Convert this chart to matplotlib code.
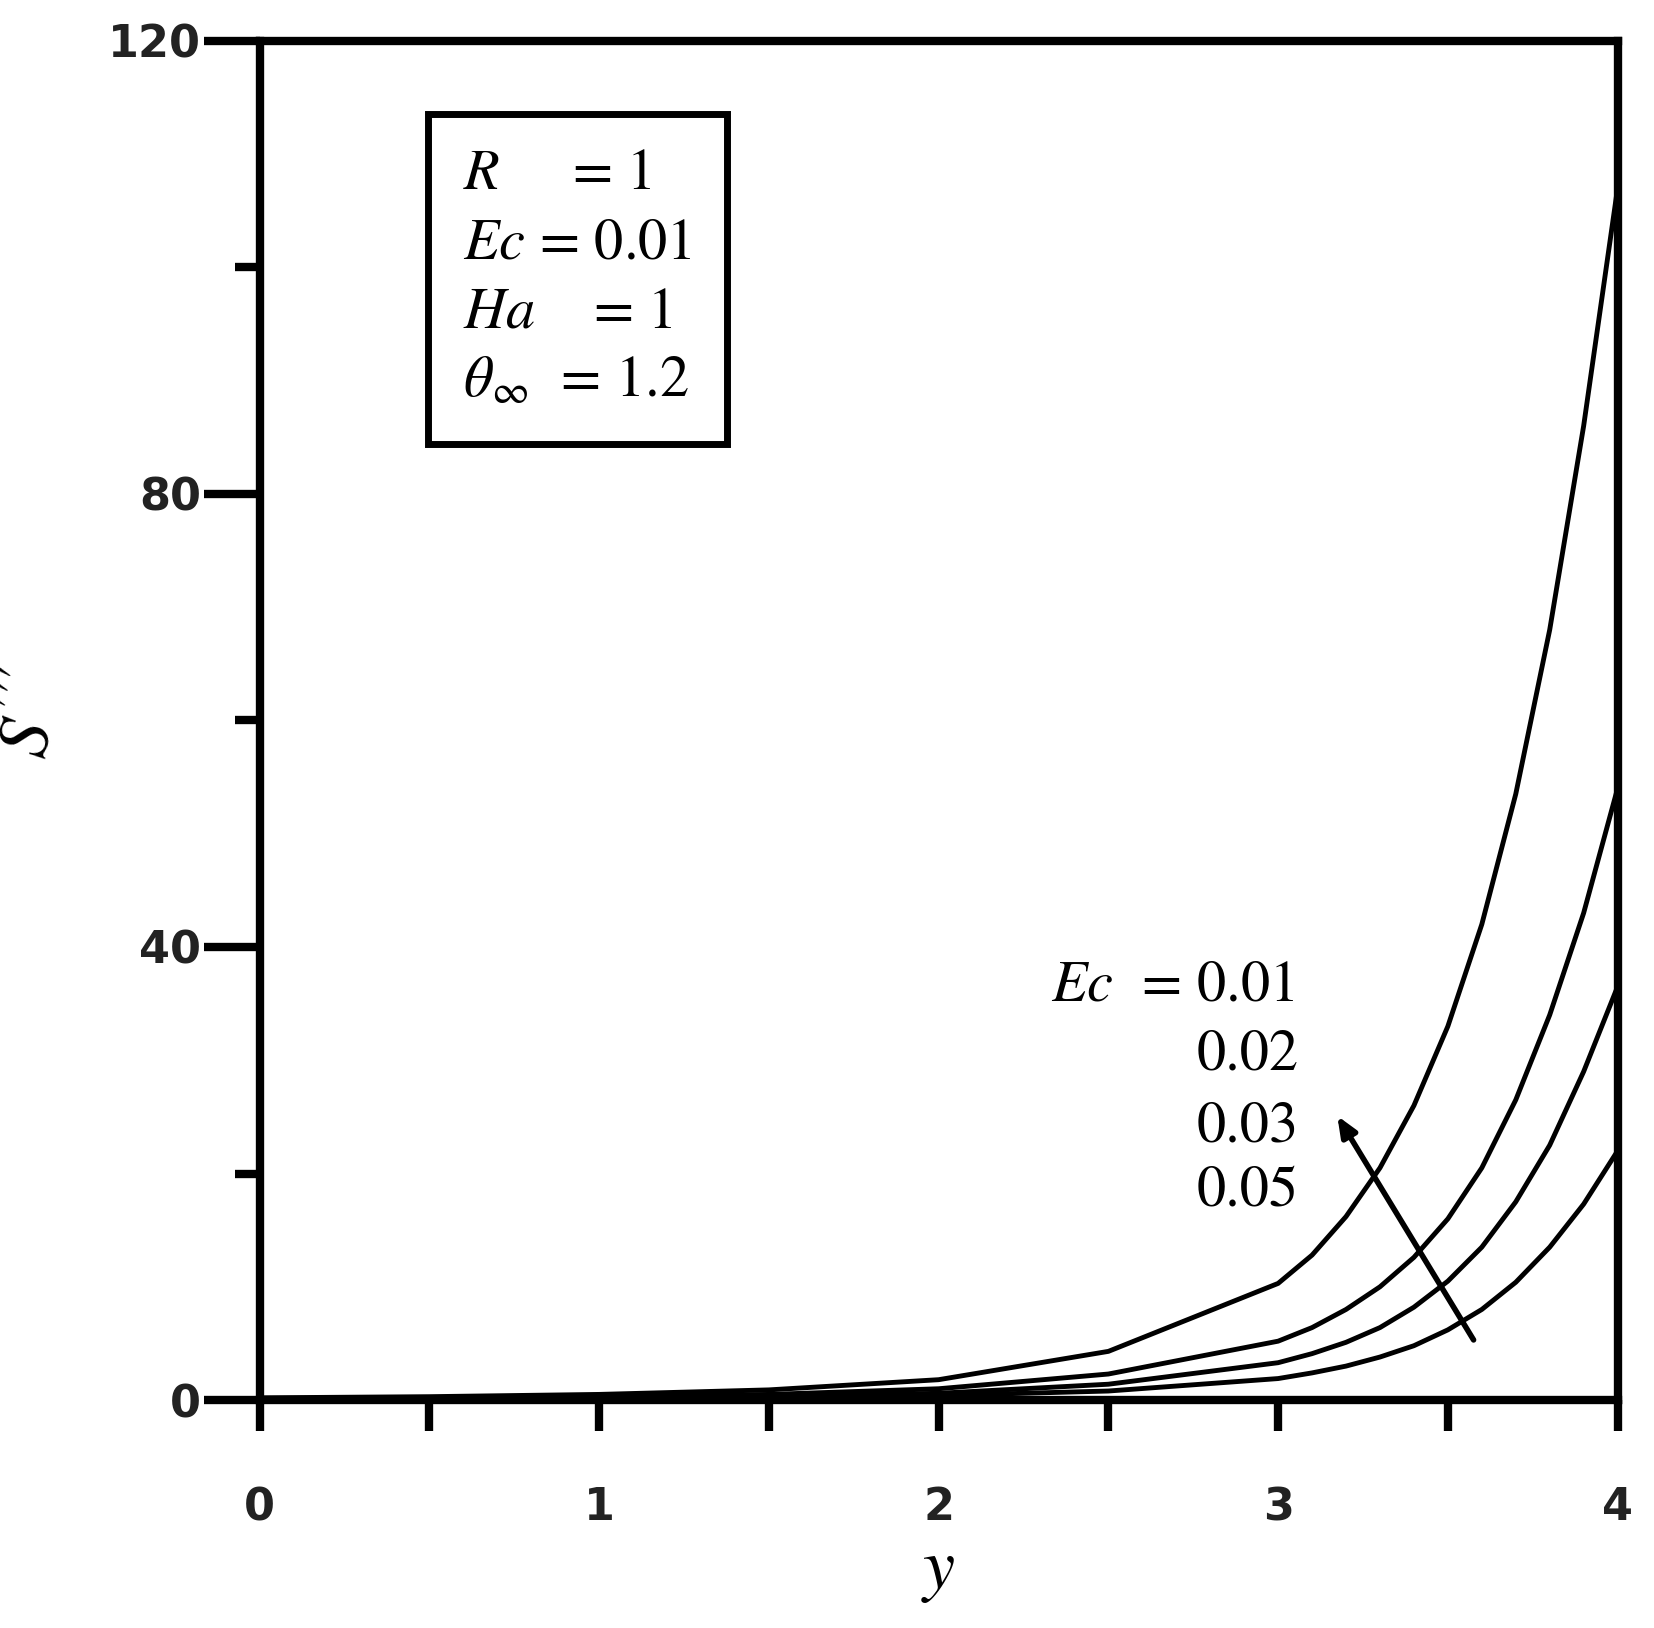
import numpy as np
import matplotlib
matplotlib.use("Agg")
import matplotlib.pyplot as plt

plt.rcParams["mathtext.fontset"] = "stix"

# values
y_vals = [0.0, 0.5, 1.0, 1.5, 2.0, 2.5, 3.0, 3.1, 3.2, 3.3, 3.4, 3.5, 3.6, 3.7, 3.8, 3.9, 4.0]
s_ec005 = [0.2, 0.3, 0.5, 0.9, 1.8, 4.3, 10.3, 12.8, 16.2, 20.5, 26.0, 33.0, 42.0, 53.5, 68.0, 86.0, 107.0]
s_ec003 = [0.1, 0.2, 0.3, 0.5, 1.0, 2.3, 5.2, 6.4, 8.0, 10.0, 12.6, 16.0, 20.5, 26.5, 34.0, 43.0, 54.0]
s_ec002 = [0.1, 0.1, 0.2, 0.3, 0.6, 1.4, 3.3, 4.1, 5.1, 6.4, 8.2, 10.5, 13.5, 17.5, 22.5, 29.0, 36.5]
s_ec001 = [0.0, 0.1, 0.1, 0.2, 0.4, 0.8, 1.9, 2.4, 3.0, 3.8, 4.8, 6.2, 8.0, 10.4, 13.5, 17.3, 22.0]
series = [s_ec005, s_ec003, s_ec002, s_ec001]

fig = plt.figure(figsize=(16.54, 16.28), dpi=100)
ax = fig.add_axes([0.157, 0.14, 0.821, 0.835])

for s in series:
    ax.plot(y_vals, s, color="black", lw=3.5)

ax.set_xlim(0, 4)
ax.set_ylim(0, 120)
for sp in ax.spines.values():
    sp.set_linewidth(6)

ax.set_xticks([0, 1, 2, 3, 4])
ax.set_xticks([0.5, 1.5, 2.5, 3.5], minor=True)
ax.set_yticks([0, 40, 80, 120])
ax.set_yticks([20, 60, 100], minor=True)
ax.tick_params(axis="both", which="both", direction="out", width=6, length=22)
ax.tick_params(axis="x", which="major", pad=40)
ax.tick_params(axis="y", which="both", length=40, pad=2)
ax.tick_params(axis="y", which="minor", length=18)
for lab in ax.get_xticklabels() + ax.get_yticklabels():
    lab.set_fontsize(32)
    lab.set_fontweight("bold")
    lab.set_color("#222222")

ax.set_xlabel("$y$", fontsize=52, labelpad=5)
ax.set_ylabel("$S'''$", fontsize=52, rotation=80, labelpad=30)

# parameter box
box_txt = "$R$     = 1\n$Ec$ = 0.01\n$Ha$    = 1\n$\\theta_{\\infty}$  = 1.2"
ax.text(0.15, 0.92, box_txt, transform=ax.transAxes, fontsize=42, family="STIXGeneral",
        va="top", ha="left", linespacing=1.4,
        bbox=dict(boxstyle="square,pad=0.6", fc="white", ec="black", lw=5))

# curve labels
ax.text(2.33, 36.5, "$Ec$  = 0.01", fontsize=42, family="STIXGeneral", va="center")
for yy, t in zip([30.4, 24.0, 18.3], ["0.02", "0.03", "0.05"]):
    ax.text(2.76, yy, t, fontsize=42, family="STIXGeneral", va="center")

ax.annotate("", xy=(3.17, 25.3), xytext=(3.58, 5.1),
            arrowprops=dict(arrowstyle="-|>,head_length=1.2,head_width=0.5", color="black", lw=4))

fig.savefig("out.png", dpi=100)
